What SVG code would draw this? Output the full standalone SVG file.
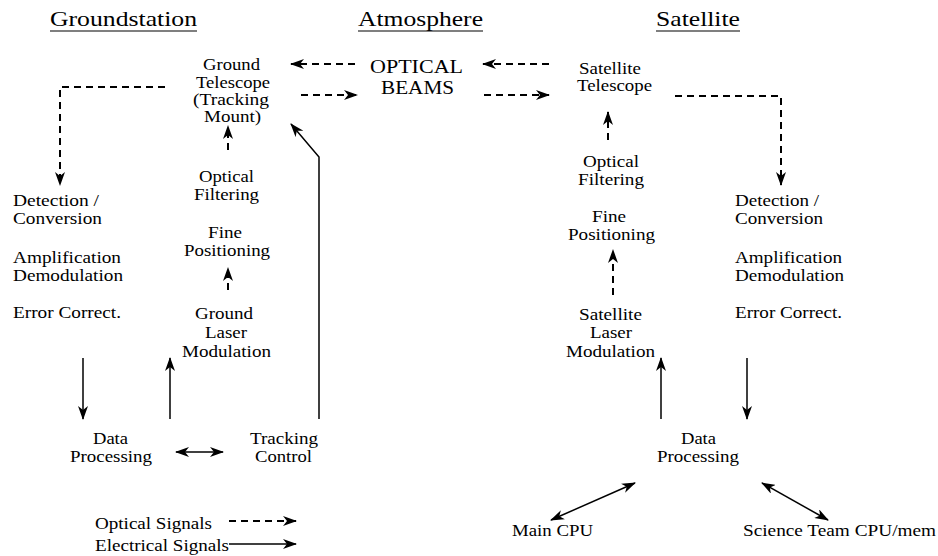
<svg xmlns="http://www.w3.org/2000/svg" width="938" height="556" viewBox="0 0 938 556" font-family="Liberation Serif, serif">
<defs>
<style>
text{font-family:'Liberation Serif',serif;fill:#000}
.h{font-size:21px}
.t{font-size:16px}
.b{font-size:18px}
.ul{stroke:#000;stroke-width:1.2}
.opt{fill:none;stroke:#000;stroke-width:2;stroke-dasharray:7 5;marker-end:url(#ah)}
.elec{fill:none;stroke:#000;stroke-width:1.5;marker-end:url(#ah)}
.dbl{marker-start:url(#ah)}
</style>
<marker id="ah" viewBox="0 0 14 10" refX="13" refY="5" markerWidth="14" markerHeight="10" markerUnits="userSpaceOnUse" orient="auto-start-reverse">
<path d="M0,0 L14,5 L0,10 L4,5 Z" fill="#000" stroke="none"/>
</marker>
</defs>
<rect width="938" height="556" fill="#fff"/>

<g id="headings">
<text class="h" x="50" y="26" textLength="147" lengthAdjust="spacingAndGlyphs">Groundstation</text>
<line class="ul" x1="50" y1="31" x2="197" y2="31"/>
<text class="h" x="358" y="26" textLength="125" lengthAdjust="spacingAndGlyphs">Atmosphere</text>
<line class="ul" x1="358" y1="31" x2="483" y2="31"/>
<text class="h" x="656" y="26" textLength="84" lengthAdjust="spacingAndGlyphs">Satellite</text>
<line class="ul" x1="656" y1="31" x2="740" y2="31"/>
</g>

<g id="ground-telescope">
<text class="t" x="203" y="70" textLength="57" lengthAdjust="spacingAndGlyphs">Ground</text>
<text class="t" x="196" y="88" textLength="74" lengthAdjust="spacingAndGlyphs">Telescope</text>
<text class="t" x="193" y="105" textLength="76" lengthAdjust="spacingAndGlyphs">(Tracking</text>
<text class="t" x="204" y="122" textLength="57" lengthAdjust="spacingAndGlyphs">Mount)</text>
</g>

<g id="optical-beams">
<text class="b" x="370" y="73" textLength="93" lengthAdjust="spacingAndGlyphs">OPTICAL</text>
<text class="b" x="381" y="94" textLength="73" lengthAdjust="spacingAndGlyphs">BEAMS</text>
</g>

<g id="satellite-telescope">
<text class="t" x="579" y="74" textLength="62" lengthAdjust="spacingAndGlyphs">Satellite</text>
<text class="t" x="577" y="91" textLength="75" lengthAdjust="spacingAndGlyphs">Telescope</text>
</g>

<g id="g-optical-filtering">
<text class="t" x="199" y="182" textLength="55" lengthAdjust="spacingAndGlyphs">Optical</text>
<text class="t" x="194" y="200" textLength="65" lengthAdjust="spacingAndGlyphs">Filtering</text>
</g>
<g id="g-fine-positioning">
<text class="t" x="208" y="238" textLength="34" lengthAdjust="spacingAndGlyphs">Fine</text>
<text class="t" x="184" y="256" textLength="86" lengthAdjust="spacingAndGlyphs">Positioning</text>
</g>
<g id="g-laser-modulation">
<text class="t" x="195" y="319" textLength="58" lengthAdjust="spacingAndGlyphs">Ground</text>
<text class="t" x="205" y="338" textLength="42" lengthAdjust="spacingAndGlyphs">Laser</text>
<text class="t" x="182" y="357" textLength="89" lengthAdjust="spacingAndGlyphs">Modulation</text>
</g>

<g id="g-detection">
<text class="t" x="13" y="206" textLength="86" lengthAdjust="spacingAndGlyphs">Detection /</text>
<text class="t" x="13" y="224" textLength="89" lengthAdjust="spacingAndGlyphs">Conversion</text>
<text class="t" x="13" y="263" textLength="108" lengthAdjust="spacingAndGlyphs">Amplification</text>
<text class="t" x="13" y="281" textLength="110" lengthAdjust="spacingAndGlyphs">Demodulation</text>
<text class="t" x="13" y="318" textLength="108" lengthAdjust="spacingAndGlyphs">Error Correct.</text>
</g>

<g id="g-data-processing">
<text class="t" x="93" y="444" textLength="35" lengthAdjust="spacingAndGlyphs">Data</text>
<text class="t" x="70" y="462" textLength="82" lengthAdjust="spacingAndGlyphs">Processing</text>
</g>
<g id="g-tracking-control">
<text class="t" x="250" y="444" textLength="68" lengthAdjust="spacingAndGlyphs">Tracking</text>
<text class="t" x="255" y="462" textLength="57" lengthAdjust="spacingAndGlyphs">Control</text>
</g>

<g id="s-optical-filtering">
<text class="t" x="583" y="167" textLength="56" lengthAdjust="spacingAndGlyphs">Optical</text>
<text class="t" x="578" y="185" textLength="66" lengthAdjust="spacingAndGlyphs">Filtering</text>
</g>
<g id="s-fine-positioning">
<text class="t" x="592" y="222" textLength="34" lengthAdjust="spacingAndGlyphs">Fine</text>
<text class="t" x="568" y="240" textLength="87" lengthAdjust="spacingAndGlyphs">Positioning</text>
</g>
<g id="s-laser-modulation">
<text class="t" x="579" y="320" textLength="63" lengthAdjust="spacingAndGlyphs">Satellite</text>
<text class="t" x="590" y="338" textLength="42" lengthAdjust="spacingAndGlyphs">Laser</text>
<text class="t" x="566" y="357" textLength="89" lengthAdjust="spacingAndGlyphs">Modulation</text>
</g>

<g id="s-detection">
<text class="t" x="735" y="206" textLength="84" lengthAdjust="spacingAndGlyphs">Detection /</text>
<text class="t" x="735" y="224" textLength="88" lengthAdjust="spacingAndGlyphs">Conversion</text>
<text class="t" x="735" y="263" textLength="107" lengthAdjust="spacingAndGlyphs">Amplification</text>
<text class="t" x="735" y="281" textLength="109" lengthAdjust="spacingAndGlyphs">Demodulation</text>
<text class="t" x="735" y="318" textLength="107" lengthAdjust="spacingAndGlyphs">Error Correct.</text>
</g>

<g id="s-data-processing">
<text class="t" x="681" y="444" textLength="35" lengthAdjust="spacingAndGlyphs">Data</text>
<text class="t" x="657" y="462" textLength="82" lengthAdjust="spacingAndGlyphs">Processing</text>
</g>
<g id="main-cpu">
<text class="t" x="512" y="536" textLength="81" lengthAdjust="spacingAndGlyphs">Main CPU</text>
</g>
<g id="science-cpu">
<text class="t" x="743" y="536" textLength="193" lengthAdjust="spacingAndGlyphs">Science Team CPU/mem</text>
</g>

<g id="legend">
<text class="t" x="95" y="529" textLength="117" lengthAdjust="spacingAndGlyphs">Optical Signals</text>
<text class="t" x="95" y="551" textLength="134" lengthAdjust="spacingAndGlyphs">Electrical Signals</text>
</g>

<g id="connectors">
<path class="opt" d="M165,87 H60 V185"/>
<path class="opt" d="M228,150 V126"/>
<path class="opt" d="M228,290 V268"/>
<path class="opt" d="M355,64 H291"/>
<path class="opt" d="M301,95 H357"/>
<path class="opt" d="M549,64 H483"/>
<path class="opt" d="M484,95 H549"/>
<path class="opt" d="M675,96 H781 V185"/>
<path class="opt" d="M608,140 V112"/>
<path class="opt" d="M613,295 V250"/>
<path class="opt" d="M229,521 H296"/>
<path class="elec" d="M83,358 V419"/>
<path class="elec" d="M170,419 V358"/>
<path class="elec" d="M319,419 V157 L291,124"/>
<path class="elec dbl" d="M176,452 H223"/>
<path class="elec" d="M661,419 V358"/>
<path class="elec" d="M747,358 V419"/>
<path class="elec dbl" d="M635,483 L551,520"/>
<path class="elec dbl" d="M762,483 L828,520"/>
<path class="elec" d="M229,544 H296"/>
</g>
</svg>
